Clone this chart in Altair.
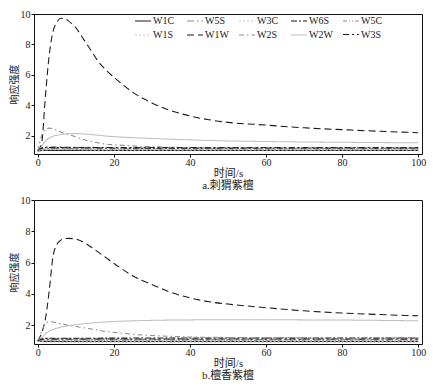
import altair as alt
import pandas as pd

SERIES = ["W1C", "W5S", "W3C", "W6S", "W5C", "W1S", "W1W", "W2S", "W2W", "W3S"]
COLORS = ["#1a1a1a", "#8a8a8a", "#c4c4c4", "#1a1a1a", "#8a8a8a",
          "#c4c4c4", "#1a1a1a", "#8a8a8a", "#bdbdbd", "#1a1a1a"]
DASHES = [[1, 0], [7, 3, 1.5, 3], [2, 2], [6, 2, 2, 2], [4, 2, 1, 2, 1, 2],
          [2, 2], [7, 4], [5, 3, 1.5, 3], [1, 0], [6, 3, 2, 3]]
WIDTHS = [1.2, 1.0, 1.0, 1.3, 1.0, 1.0, 1.3, 1.0, 1.2, 1.3]

# main time grid (s)
T = [0, 1, 2, 3, 4, 5, 6, 7, 8, 10, 12, 14, 16, 18, 20, 25, 30, 35, 40, 45, 50, 60, 70, 80, 90, 100]
# sparse grid for the near-flat curves
TL = [0, 1, 2, 4, 8, 15, 25, 40, 60, 80, 100]

# ---- a. 刺猬紫檀 ----
a_W1W = [1.0, 1.5, 4.6, 7.3, 8.85, 9.45, 9.72, 9.72, 9.55, 9.1, 8.35, 7.6, 6.85, 6.3, 5.85,
         4.85, 4.15, 3.65, 3.3, 3.05, 2.88, 2.7, 2.52, 2.4, 2.29, 2.2]
a_W2S = [1.0, 2.0, 2.4, 2.5, 2.45, 2.35, 2.25, 2.15, 2.08, 1.92, 1.75, 1.62, 1.52, 1.45, 1.41,
         1.33, 1.28, 1.24, 1.22, 1.2, 1.19, 1.18, 1.18, 1.17, 1.17, 1.17]
a_W2W = [1.0, 1.3, 1.65, 1.85, 1.97, 2.03, 2.08, 2.11, 2.13, 2.14, 2.12, 2.08, 2.03, 1.98, 1.94,
         1.87, 1.82, 1.77, 1.73, 1.69, 1.66, 1.62, 1.59, 1.57, 1.55, 1.54]
a_W1C = [1.0, 1.03, 1.04, 1.04, 1.04, 1.03, 1.03, 1.03, 1.03, 1.03, 1.03]
a_W5S = [1.0, 1.12, 1.15, 1.16, 1.15, 1.14, 1.13, 1.13, 1.13, 1.13, 1.13]
a_W3C = [1.0, 1.05, 1.07, 1.08, 1.08, 1.07, 1.07, 1.07, 1.07, 1.07, 1.07]
a_W6S = [1.0, 1.18, 1.22, 1.22, 1.21, 1.2, 1.19, 1.19, 1.19, 1.19, 1.19]
a_W5C = [1.0, 1.1, 1.12, 1.12, 1.11, 1.1, 1.1, 1.1, 1.1, 1.1, 1.1]
a_W1S = [1.0, 1.06, 1.09, 1.1, 1.1, 1.09, 1.09, 1.09, 1.09, 1.09, 1.09]
a_W3S = [1.0, 1.2, 1.25, 1.25, 1.24, 1.23, 1.22, 1.22, 1.22, 1.22, 1.22]

# ---- b. 檀香紫檀 ----
b_W1W = [1.0, 1.5, 2.4, 4.2, 6.4, 7.15, 7.42, 7.52, 7.55, 7.5, 7.3, 7.0, 6.65, 6.3, 5.95,
         5.15, 4.6, 4.1, 3.75, 3.5, 3.35, 3.12, 2.92, 2.78, 2.68, 2.6]
b_W2S = [1.0, 1.6, 2.1, 2.22, 2.2, 2.15, 2.1, 2.05, 2.0, 1.92, 1.84, 1.76, 1.68, 1.6, 1.54,
         1.42, 1.34, 1.29, 1.25, 1.23, 1.22, 1.2, 1.2, 1.19, 1.19, 1.19]
b_W2W = [1.0, 1.2, 1.45, 1.62, 1.73, 1.81, 1.87, 1.92, 1.96, 2.03, 2.09, 2.14, 2.18, 2.21, 2.24,
         2.28, 2.31, 2.33, 2.34, 2.35, 2.35, 2.35, 2.34, 2.33, 2.31, 2.28]
b_W1C = [1.0, 0.98, 0.97, 0.96, 0.96, 0.96, 0.96, 0.96, 0.96, 0.96, 0.96]
b_W5S = [1.0, 1.08, 1.1, 1.1, 1.09, 1.08, 1.08, 1.08, 1.08, 1.08, 1.08]
b_W3C = [1.0, 1.02, 1.02, 1.02, 1.01, 1.0, 1.0, 1.0, 1.0, 1.0, 1.0]
b_W6S = [1.0, 1.12, 1.16, 1.17, 1.17, 1.17, 1.18, 1.18, 1.18, 1.18, 1.18]
b_W5C = [1.0, 1.04, 1.05, 1.05, 1.04, 1.04, 1.04, 1.04, 1.04, 1.04, 1.04]
b_W1S = [1.0, 0.94, 0.93, 0.92, 0.92, 0.92, 0.92, 0.92, 0.92, 0.92, 0.92]
b_W3S = [1.0, 1.1, 1.12, 1.12, 1.12, 1.12, 1.12, 1.12, 1.12, 1.12, 1.12]

A = {"W1C": (TL, a_W1C), "W5S": (TL, a_W5S), "W3C": (TL, a_W3C), "W6S": (TL, a_W6S),
     "W5C": (TL, a_W5C), "W1S": (TL, a_W1S), "W1W": (T, a_W1W), "W2S": (T, a_W2S),
     "W2W": (T, a_W2W), "W3S": (TL, a_W3S)}
B = {"W1C": (TL, b_W1C), "W5S": (TL, b_W5S), "W3C": (TL, b_W3C), "W6S": (TL, b_W6S),
     "W5C": (TL, b_W5C), "W1S": (TL, b_W1S), "W1W": (T, b_W1W), "W2S": (T, b_W2S),
     "W2W": (T, b_W2W), "W3S": (TL, b_W3S)}


def frame(d):
    rows = []
    for s in SERIES:
        xs, ys = d[s]
        for x, y in zip(xs, ys):
            rows.append({"t": x, "v": y, "s": s})
    return pd.DataFrame(rows)


SERIF = "Liberation Serif, Noto Sans CJK SC"
W = 388


def panel(df, caption, h):
    legend = alt.Legend(
        title=None, orient="none", legendX=100, legendY=-2, direction="horizontal",
        columns=5, gridAlign="all", columnPadding=7, rowPadding=0,
        symbolType="stroke", symbolSize=256, symbolStrokeWidth=1.2, labelOffset=1,
        labelFont=SERIF, labelFontSize=10, labelColor="#222",
        padding=0, labelLimit=40,
    )
    return alt.Chart(df).mark_line(interpolate="monotone").encode(
        x=alt.X("t:Q", scale=alt.Scale(domain=[-1, 101], nice=False),
                axis=alt.Axis(values=[0, 20, 40, 60, 80, 100], title="时间/s")),
        y=alt.Y("v:Q", scale=alt.Scale(domain=[0.8, 10], nice=False, zero=False),
                axis=alt.Axis(values=[2, 4, 6, 8, 10], title="响应强度")),
        color=alt.Color("s:N", scale=alt.Scale(domain=SERIES, range=COLORS), legend=legend),
        strokeDash=alt.StrokeDash("s:N", scale=alt.Scale(domain=SERIES, range=DASHES), legend=legend),
        strokeWidth=alt.StrokeWidth("s:N", scale=alt.Scale(domain=SERIES, range=WIDTHS), legend=legend),
    ).properties(
        width=W, height=h,
        title=alt.TitleParams(caption, orient="bottom", font=SERIF, fontSize=11,
                              fontWeight="normal", color="#222", offset=2),
    )


top = panel(frame(A), "a.刺猬紫檀", 140)
bot = panel(frame(B), "b.檀香紫檀", 144)

chart = alt.vconcat(top, bot, spacing=2).properties(
    padding={"left": 0, "top": 0, "right": 0, "bottom": 0}
).configure_view(
    stroke="#111", strokeWidth=1
).configure_axis(
    domain=False, grid=False, tickColor="#111", tickSize=3,
    labelFont=SERIF, labelFontSize=10, labelColor="#222",
    titleFont=SERIF, titleFontSize=11, titleFontWeight="normal", titleColor="#222",
).configure_axisX(labelPadding=0, titlePadding=0
).configure_axisY(labelPadding=1, titlePadding=1, titleFontSize=10)

chart.save("out.html", embed_options={"renderer": "svg", "actions": False})
